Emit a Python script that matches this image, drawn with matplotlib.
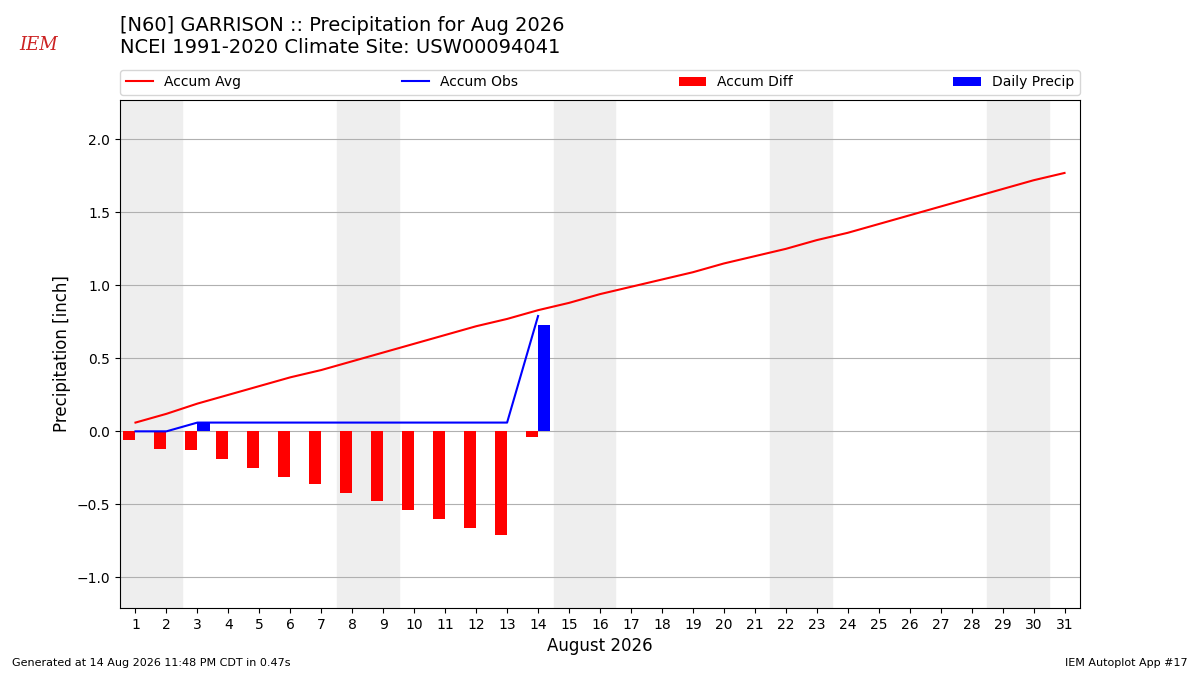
import numpy as np
import matplotlib
matplotlib.use('Agg')
import matplotlib.pyplot as plt

days = list(range(1, 32))
accum_avg = [0.06, 0.12, 0.19, 0.25, 0.31, 0.37, 0.42, 0.48, 0.54, 0.60,
             0.66, 0.72, 0.77, 0.83, 0.88, 0.94, 0.99, 1.04, 1.09, 1.15,
             1.20, 1.25, 1.31, 1.36, 1.42, 1.48, 1.54, 1.60, 1.66, 1.72, 1.77]
obs_days = list(range(1, 15))
accum_obs = [0.0, 0.0, 0.06, 0.06, 0.06, 0.06, 0.06, 0.06, 0.06, 0.06,
             0.06, 0.06, 0.06, 0.79]
daily_precip = [0.0, 0.0, 0.06, 0.0, 0.0, 0.0, 0.0, 0.0, 0.0, 0.0,
                0.0, 0.0, 0.0, 0.73]
accum_diff = [-0.06, -0.12, -0.13, -0.19, -0.25, -0.31, -0.36, -0.42, -0.48,
              -0.54, -0.60, -0.66, -0.71, -0.04]
weekends = [1, 8, 15, 22, 29]

fig = plt.figure(figsize=(12, 6.75), dpi=100)
ax = fig.add_axes([0.1, 0.0993, 0.8, 0.7526])

# weekend shading
for d in weekends:
    ax.axvspan(d - 0.5, d + 1.5, color='#eeeeee', zorder=0)

ax.plot(days, accum_avg, color='r', label='Accum Avg', zorder=3)
ax.plot(obs_days, accum_obs, color='b', label='Accum Obs', zorder=3)
ax.bar(obs_days, accum_diff, width=-0.4, align='edge', color='r',
       label='Accum Diff', zorder=2)
ax.bar(obs_days, daily_precip, width=0.4, align='edge', color='b',
       label='Daily Precip', zorder=2)

ax.set_xlim(0.5, 31.5)
ax.set_ylim(-1.21, 2.27)
ax.set_xticks(days)
ax.set_yticks([-1.0, -0.5, 0.0, 0.5, 1.0, 1.5, 2.0])
ax.yaxis.grid(True, color='#b0b0b0', zorder=1)
ax.set_axisbelow(True)
ax.set_xlabel('August 2026', fontsize=12)
ax.set_ylabel('Precipitation [inch]', fontsize=12)
ax.legend(bbox_to_anchor=(0, 1.01, 1, 0.05), loc='lower left', ncol=4,
          mode='expand', borderaxespad=0, fontsize=10)

fig.text(0.1, 0.915, '[N60] GARRISON :: Precipitation for Aug 2026\n'
         'NCEI 1991-2020 Climate Site: USW00094041', fontsize=14,
         va='bottom', ha='left')
fig.text(0.01, 0.01, 'Generated at 14 Aug 2026 11:48 PM CDT in 0.47s',
         fontsize=8, va='bottom')
fig.text(0.99, 0.01, 'IEM Autoplot App #17', fontsize=8, va='bottom',
         ha='right')
# logo stand-in
fig.text(0.032, 0.933, 'IEM', fontsize=13, color='#cc2222', style='italic',
         family='DejaVu Serif', ha='center', va='center')

fig.savefig('out.png')
